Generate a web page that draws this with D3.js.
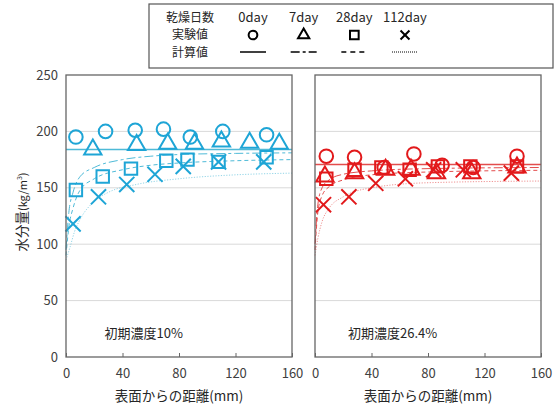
<!DOCTYPE html>
<html>
<head>
<meta charset="utf-8">
<script src="https://cdn.jsdelivr.net/npm/d3@7"></script>
<style>
  body { margin: 0; background: #fff; }
  text { font-family: "Noto Sans CJK JP", "Open Sans", sans-serif; }
</style>
</head>
<body>
<script>
const width = 560, height = 411

// legend labels
const days = ["0day", "7day", "28day", "112day"]
const panelNames = ["初期濃度10%", "初期濃度26.4%"]
const xTicks = [0, 40, 80, 120, 160]
const yTicks = [0, 50, 100, 150, 200, 250]

// measured points [distance mm, water kg/m3] - 初期濃度10%
const m10_0 = [[7, 195], [28, 200], [49, 201], [69, 202], [88, 195], [111, 200], [142, 197]]
const m10_7 = [[19, 184], [50, 188], [72, 189], [91, 189], [110, 191], [130, 190], [151, 189]]
const m10_28 = [[7, 148], [26, 160], [46, 167], [71, 174], [86, 175], [108, 173], [142, 177]]
const m10_112 = [[5, 118], [23, 142], [43, 153], [63, 162], [83, 169], [108, 173], [140, 173]]

// measured points - 初期濃度26.4%
const m26_0 = [[8, 178], [28, 177], [49, 168], [70, 180], [90, 170], [112, 168], [143, 178]]
const m26_7 = [[7, 160], [28, 163], [50, 166], [68, 166], [86, 163], [111, 163], [143, 168]]
const m26_28 = [[8, 158], [28, 166], [47, 168], [67, 166], [87, 169], [110, 169], [143, 169]]
const m26_112 = [[6, 135], [24, 142], [43, 154], [64, 158], [84, 166], [105, 166], [139, 163]]

// calculated curves - 初期濃度10%
const c10_0 = [[0, 184], [160, 184]]
const c10_7 = [[0, 95], [2, 128], [5, 146], [10, 160], [20, 168], [40, 175], [60, 178], [80, 179.5], [120, 180.5], [160, 181]]
const c10_28 = [[0, 90], [2, 115], [5, 132], [10, 148], [20, 158], [40, 166], [60, 170], [80, 172], [120, 174], [160, 175]]
const c10_112 = [[0, 86], [3, 98], [6, 111], [10, 122], [20, 138], [30, 146], [50, 153], [80, 158], [120, 161.5], [160, 163]]

// calculated curves - 初期濃度26.4%
const c26_0 = [[0, 170.7], [160, 170.7]]
const c26_7 = [[0, 100], [2, 135], [5, 150], [10, 157], [20, 162], [40, 165], [80, 167], [160, 168]]
const c26_28 = [[0, 95], [2, 128], [5, 143], [10, 151], [20, 157], [40, 161.5], [80, 164], [160, 165.5]]
const c26_112 = [[0, 90], [2, 105], [5, 120], [10, 132], [20, 142], [40, 150], [80, 154.5], [160, 156]]

const panels = [
  { name: panelNames[0], x0: 66, color: "#1ea5d6", lineColor: "#3bb3d3",
    measured: [m10_0, m10_7, m10_28, m10_112], calc: [c10_0, c10_7, c10_28, c10_112] },
  { name: panelNames[1], x0: 315, color: "#e2191b", lineColor: "#e03a3a",
    measured: [m26_0, m26_7, m26_28, m26_112], calc: [c26_0, c26_7, c26_28, c26_112] }
]

const dashes = [null, "9,3,3,3", "4,3", "1.2,1.5"]
const pw = 226, plotTop = 75, plotBottom = 357

let svg = d3.select("body").append("svg")
  .attr("width", width)
  .attr("height", height)

const y = d3.scaleLinear().domain([0, 250]).range([plotBottom, plotTop])

// custom cross symbol
const cross = {
  draw(ctx, size) {
    const r = Math.sqrt(size) / 2
    ctx.moveTo(-r, -r); ctx.lineTo(r, r)
    ctx.moveTo(-r, r); ctx.lineTo(r, -r)
  }
}
const shapes = [d3.symbolCircle, d3.symbolTriangle, d3.symbolSquare, cross]
const sizes = [145, 130, 155, 230]

panels.forEach((p, pi) => {
  const x = d3.scaleLinear().domain([0, 160]).range([p.x0, p.x0 + pw])
  let g = svg.append("g")

  // grid
  g.selectAll(".grid").data([50, 100, 150, 200]).join("line")
    .attr("x1", x(0)).attr("x2", x(160))
    .attr("y1", d => y(d)).attr("y2", d => y(d))
    .attr("stroke", "#d9d9d9").attr("stroke-width", 1)

  // calculated lines
  const line = d3.line().x(d => x(d[0])).y(d => y(d[1])).curve(d3.curveMonotoneX)
  p.calc.forEach((c, i) => {
    g.append("path").datum(c)
      .attr("d", line)
      .attr("fill", "none")
      .attr("stroke", p.lineColor)
      .attr("stroke-opacity", i == 3 ? 0.55 : 0.9)
      .attr("stroke-width", i == 0 ? 1.5 : 1)
      .attr("stroke-dasharray", dashes[i])
  })

  // measured markers
  p.measured.forEach((m, i) => {
    g.selectAll(".m" + i).data(m).join("path")
      .attr("transform", d => `translate(${x(d[0])},${y(d[1])})`)
      .attr("d", d3.symbol().type(shapes[i]).size(sizes[i]))
      .attr("fill", "none")
      .attr("stroke", p.color)
      .attr("stroke-width", 2)
  })

  // frame
  g.append("rect")
    .attr("x", x(0)).attr("y", plotTop)
    .attr("width", pw).attr("height", plotBottom - plotTop)
    .attr("fill", "none").attr("stroke", "#666").attr("stroke-width", 1.3)

  // x axis
  let xa = g.append("g").attr("transform", `translate(0,${plotBottom})`)
    .call(d3.axisBottom(x).tickValues(xTicks).tickSizeInner(-4).tickSizeOuter(0).tickPadding(12))
  xa.select(".domain").remove()
  xa.selectAll("line").attr("stroke", "#666")
  xa.selectAll("text").attr("font-size", 13).attr("fill", "#404040")
    .style("font-family", "'Noto Sans CJK JP', sans-serif")

  g.append("text")
    .attr("x", x(80)).attr("y", 401)
    .attr("text-anchor", "middle")
    .attr("font-size", 13.5).attr("fill", "#262626")
    .text("表面からの距離(mm)")

  g.append("text")
    .attr("x", x(55)).attr("y", 338)
    .attr("text-anchor", "middle")
    .attr("font-size", 13).attr("fill", "#262626")
    .text(p.name)

  if (pi == 0) {
    let ya = g.append("g").attr("transform", `translate(${x(0)},0)`)
      .call(d3.axisLeft(y).tickValues(yTicks).tickSize(0).tickPadding(8))
    ya.select(".domain").remove()
    ya.selectAll("text").attr("font-size", 13).attr("fill", "#404040")
      .style("font-family", "'Noto Sans CJK JP', sans-serif")
  }
})

// y label
let yl = svg.append("text")
  .attr("transform", "translate(27,212) rotate(-90)")
  .attr("text-anchor", "middle")
  .attr("font-size", 13.5).attr("fill", "#262626")
yl.append("tspan").text("水分量")
yl.append("tspan").attr("font-size", 11).text("(kg/m")
yl.append("tspan").attr("font-size", 7).attr("dy", -5).text("3")
yl.append("tspan").attr("font-size", 11).attr("dy", 5).text(")")

// legend
let lg = svg.append("g")
lg.append("rect")
  .attr("x", 149).attr("y", 4).attr("width", 404).attr("height", 64)
  .attr("fill", "#fff").attr("stroke", "#555").attr("stroke-width", 1.2)

const lx = d3.scalePoint().domain(days).range([253, 405])
const rowNames = ["乾燥日数", "実験値", "計算値"]
lg.selectAll(".row").data(rowNames).join("text")
  .attr("x", 190).attr("y", (d, i) => 21.5 + i * 17.5)
  .attr("text-anchor", "middle")
  .attr("font-size", 12).attr("fill", "#262626")
  .text(d => d)

lg.selectAll(".day").data(days).join("text")
  .attr("x", d => lx(d)).attr("y", 21.5)
  .attr("text-anchor", "middle").attr("font-size", 13).attr("fill", "#262626")
  .text(d => d)

lg.selectAll(".sym").data(days).join("path")
  .attr("transform", d => `translate(${lx(d)},35)`)
  .attr("d", (d, i) => d3.symbol().type(shapes[i]).size([60, 55, 75, 80][i])())
  .attr("fill", "none").attr("stroke", "#000").attr("stroke-width", 2)

lg.selectAll(".ln").data(days).join("line")
  .attr("x1", d => lx(d) - 13).attr("x2", d => lx(d) + 13)
  .attr("y1", 52).attr("y2", 52)
  .attr("stroke", "#000")
  .attr("stroke-width", (d, i) => i == 3 ? 1 : 1.5)
  .attr("stroke-dasharray", (d, i) => [null, "9,3,3,3", "5,4", "1,1"][i])
</script>
</body>
</html>
